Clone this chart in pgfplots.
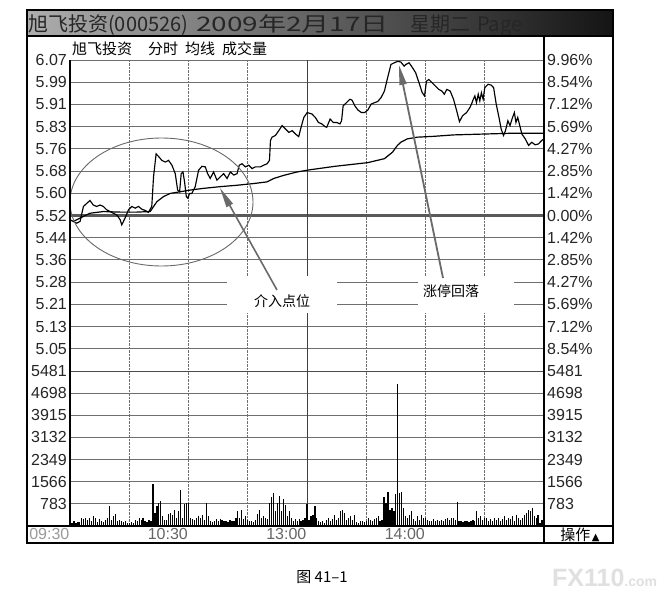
\documentclass[border=0pt]{standalone}
\usepackage{fontspec}
\setmainfont{Liberation Sans}
\newfontfamily\cjk{Noto Sans CJK SC}
\newfontfamily\dejavu{DejaVu Sans}
\usepackage{graphicx}
\usepackage{pgfplots}
\pgfplotsset{compat=1.18}
\usetikzlibrary{arrows.meta}

\definecolor{gridc}{HTML}{6E6E6E}
\definecolor{annot}{HTML}{6A6A6A}
\newcommand{\tf}{\fontsize{16}{16}\selectfont}

% price grid: prev close 5.52, step 1.423% = 0.07856
\def\pticks{5.04864,5.1272,5.20576,5.28432,5.36288,5.44144,5.52,5.59856,5.67712,5.75568,5.83424,5.9128,5.99136,6.06992}

\pgfplotsset{
  panel/.style={
    anchor=north west, width=474pt, scale only axis,
    xmin=0, xmax=240,
    axis line style={draw=none}, major tick length=0pt,
    xtick={30,60,90,150,180,210}, xticklabels={},
    yticklabel style={font=\tf, text=black!85, inner xsep=3pt},
  },
}

\begin{document}
\begin{tikzpicture}
\fill[white] (0pt,0pt) rectangle (667pt,-597pt);

% ---------------- price panel ----------------
\begin{axis}[panel,
  at={(70pt,-60pt)}, height=311pt,
  ymin=4.97008, ymax=6.06992,
  ytick=\pticks,
  yticklabels={5.05,5.13,5.21,5.28,5.36,5.44,5.52,5.60,5.68,5.76,5.83,5.91,5.99,6.07},
  xmajorgrids, ymajorgrids,
  major x grid style={gridc, densely dotted, line width=0.9pt},
  major y grid style={gridc, line width=1pt},
]
\draw[black!65, line width=2.2pt] (axis cs:0,5.52) -- (axis cs:240,5.52);
\draw[black!75, line width=1pt] (axis cs:120,4.97008) -- (axis cs:120,6.06992);
% price
\addplot[black, line width=1.15pt] coordinates {
(0,5.505) (3.4,5.493) (5.1,5.499) (6.8,5.552) (8.5,5.563) (10.1,5.573) (11.8,5.557)
(13.5,5.552) (15.2,5.557) (16.9,5.552) (18.6,5.540) (20.3,5.534) (22.0,5.528)
(23.7,5.522) (25.4,5.505) (26.2,5.487) (27.9,5.511) (29.6,5.540) (31.3,5.552)
(33.0,5.546) (34.7,5.552) (36.4,5.542) (38.1,5.538) (39.7,5.531) (41.4,5.552)
(42.3,5.657) (43.6,5.738) (44.8,5.729) (46.5,5.715) (48.2,5.709) (49.9,5.715)
(51.6,5.698) (53.3,5.668) (54.5,5.610) (55.5,5.604) (56.3,5.668) (57.2,5.674)
(58.0,5.639) (58.9,5.587) (59.7,5.581) (60.5,5.598) (61.7,5.598) (63.4,5.622)
(65.1,5.680) (66.8,5.694) (68.5,5.692) (69.7,5.668) (71.0,5.651) (72.7,5.674)
(74.4,5.645) (76.1,5.657) (77.8,5.668) (79.5,5.651) (81.2,5.674) (82.9,5.663)
(84.6,5.668) (85.7,5.698) (87.1,5.703) (88.8,5.692) (90.5,5.698) (92.2,5.686)
(93.9,5.692) (96.4,5.692) (98.1,5.698) (99.8,5.703) (101.0,5.715) (101.5,5.785)
(102.3,5.797) (104.0,5.803) (105.7,5.820) (107.4,5.838) (109.1,5.826) (110.8,5.814)
(112.5,5.820) (114.2,5.808) (115.8,5.799) (117.0,5.832) (118.4,5.867) (120.1,5.884)
(122.5,5.879) (124.2,5.867) (125.8,5.849) (127.5,5.844) (129.2,5.834) (130.0,5.832)
(131.7,5.861) (133.3,5.849) (135.0,5.849) (136.7,5.844) (137.5,5.855) (138.3,5.908)
(140.0,5.919) (141.7,5.931) (142.8,5.928) (144.2,5.908) (145.8,5.893) (147.5,5.884)
(149.2,5.884) (150.8,5.893) (152.5,5.914) (154.2,5.919) (155.8,5.923) (157.5,5.937)
(159.2,5.960) (160.8,6.007) (162.5,6.054) (164.2,6.060) (165.8,6.065) (167.5,6.063)
(169.2,6.048) (170.0,6.054) (171.7,6.060) (173.3,6.044) (175.0,6.025) (176.7,5.990)
(178.3,5.955) (179.5,5.943) (180.5,5.995) (181.7,6.001) (183.3,5.990) (185.0,5.978)
(186.7,5.966) (188.3,5.960) (189.5,5.949) (190.8,5.966) (192.5,5.960) (194.2,5.931)
(195.8,5.890) (197.2,5.852) (198.8,5.873) (200.8,5.884) (202.5,5.902) (203.3,5.914)
(204.2,5.931) (205.0,5.943) (205.8,5.919) (206.7,5.949) (207.5,5.925) (208.3,5.954)
(209.2,5.931) (210.0,5.972) (211.7,5.984) (213.3,5.981) (214.5,5.972) (215.8,5.914)
(217.2,5.867) (218.3,5.826) (219.5,5.803) (220.5,5.820) (221.7,5.855) (222.8,5.838)
(223.8,5.861) (225.0,5.884) (225.8,5.849) (226.7,5.867) (227.5,5.844) (228.8,5.808)
(230.5,5.791) (232.2,5.768) (233.8,5.779) (235.5,5.770) (237.2,5.773) (238.8,5.785)
(240.0,5.791)
};
% average price
\addplot[black, line width=1.2pt] coordinates {
(1.7,5.499) (5.1,5.511) (10.1,5.528) (16.9,5.534) (25.4,5.532) (33.8,5.532)
(40.6,5.534) (44.0,5.569) (47.4,5.587) (50.7,5.598) (55.8,5.604) (60.9,5.610)
(67.6,5.616) (76.1,5.622) (84.6,5.627) (93.0,5.633) (99.8,5.639) (103.2,5.651)
(108.2,5.662) (115.0,5.674) (121.8,5.682) (134.2,5.694) (150.8,5.707) (159.2,5.721)
(163.3,5.744) (165.8,5.768) (167.5,5.779) (170.8,5.791) (175.8,5.797) (184.2,5.800)
(194.2,5.805) (209.2,5.808) (224.2,5.811) (240,5.811)
};
\end{axis}

% right-hand percent labels
\begin{axis}[panel,
  at={(70pt,-60pt)}, height=311pt,
  ymin=4.97008, ymax=6.06992,
  hide x axis, axis y line*=right,
  ytick=\pticks,
  yticklabels={8.54\%,7.12\%,5.69\%,4.27\%,2.85\%,1.42\%,0.00\%,1.42\%,2.85\%,4.27\%,5.69\%,7.12\%,8.54\%,9.96\%},
]
\end{axis}

% ---------------- volume panel ----------------
\begin{axis}[panel,
  at={(70pt,-371pt)}, height=155pt,
  ymin=0, ymax=5481,
  ytick={783,1566,2349,3132,3915,4698,5481},
  yticklabels={783,1566,2349,3132,3915,4698,5481},
  extra x ticks={0,60,120,180},
  extra x tick labels={{\textcolor{black!40}{09:30}},10:30,13:00,14:00},
  extra x tick style={grid=none},
  xticklabel style={font=\tf, text=black!60, anchor=north east, inner xsep=0.5pt, inner ysep=2pt},
  xmajorgrids, ymajorgrids,
  major x grid style={gridc, densely dotted, line width=0.9pt},
  major y grid style={gridc, line width=1pt},
]
\draw[black!70, line width=2.2pt] (rel axis cs:0,1) -- (rel axis cs:1,1);
\draw[black!75, line width=1pt] (axis cs:120,0) -- (axis cs:120,5481);
\addplot[ycomb, black, line width=1.2pt] coordinates {
(0,430) (1,120) (2,160) (3,100) (4,150) (5,150) (6,300) (7,250) (8,280) (9,220)
(10,300) (11,160) (12,340) (13,300) (14,130) (15,250) (16,180) (17,130) (18,220) (19,280)
(20,710) (21,200) (22,340) (23,420) (24,160) (25,220) (26,180) (27,130) (28,180) (29,120)
(30,100) (31,130) (32,110) (33,220) (34,160) (35,280) (36,200) (37,300) (38,180) (39,150)
(40,220) (41,180) (42,1500) (43,460) (44,710) (45,830) (46,890) (47,340) (48,200) (49,220)
(50,420) (51,460) (52,400) (53,550) (54,280) (55,520) (56,1280) (57,300) (58,780) (59,800)
(60,830) (61,300) (62,250) (63,220) (64,270) (65,340) (66,280) (67,400) (68,220) (69,830)
(70,340) (71,160) (72,130) (73,180) (74,250) (75,180) (76,250) (77,220) (78,160) (79,180)
(80,130) (81,200) (82,160) (83,180) (84,300) (85,520) (86,280) (87,560) (88,250) (89,340)
(90,220) (91,180) (92,160) (93,130) (94,220) (95,430) (96,580) (97,280) (98,340) (99,300)
(100,250) (101,800) (102,1010) (103,1160) (104,520) (105,830) (106,1070) (107,520) (108,950) (109,760)
(110,340) (111,520) (112,280) (113,160) (114,250) (115,180) (116,250) (117,160) (118,220) (119,280)
(120,790) (121,220) (122,340) (123,400) (124,700) (125,280) (126,160) (127,130) (128,180) (129,100)
(130,220) (131,280) (132,180) (133,250) (134,400) (135,220) (136,280) (137,520) (138,580) (139,460)
(140,220) (141,280) (142,340) (143,220) (144,380) (145,130) (146,100) (147,160) (148,180) (149,130)
(150,160) (151,280) (152,220) (153,180) (154,250) (155,280) (156,340) (157,180) (158,220) (159,1010)
(160,830) (161,1200) (162,580) (163,650) (164,520) (165,1130) (166,5020) (167,1160) (168,1200) (169,650)
(170,340) (171,280) (172,400) (173,520) (174,250) (175,180) (176,340) (177,220) (178,400) (179,280)
(180,300) (181,220) (182,180) (183,160) (184,250) (185,180) (186,220) (187,160) (188,220) (189,180)
(190,250) (191,280) (192,220) (193,300) (194,280) (195,220) (196,860) (197,180) (198,160) (199,130)
(200,180) (201,160) (202,130) (203,180) (204,220) (205,160) (206,520) (207,280) (208,340) (209,220)
(210,300) (211,280) (212,180) (213,250) (214,160) (215,280) (216,220) (217,300) (218,180) (219,250)
(220,340) (221,220) (222,280) (223,250) (224,340) (225,180) (226,400) (227,280) (228,220) (229,300)
(230,400) (231,460) (232,580) (233,520) (234,650) (235,340) (236,280) (237,400) (238,100) (239,220)
(240,1040)
};
\end{axis}

\begin{axis}[panel,
  at={(70pt,-371pt)}, height=155pt,
  ymin=0, ymax=5481,
  hide x axis, axis y line*=right,
  ytick={783,1566,2349,3132,3915,4698,5481},
  yticklabels={783,1566,2349,3132,3915,4698,5481},
]
\end{axis}

% ---------------- frame, title, notes ----------------
\begin{scope}[x=1pt, y=-1pt]
  % annotation backgrounds
  \fill[white] (227,276) rectangle (337,313);
  \fill[white] (418,276) rectangle (514,313);
  % ellipse and arrows
  \draw[annot, line width=0.9pt] (161.5,202) ellipse [x radius=91.5pt, y radius=64pt];
  \draw[annot, line width=1.6pt, -{Triangle[length=20pt, width=7pt]}] (277,290) -- (220,188);
  \draw[annot, line width=1.8pt, -{Triangle[length=20pt, width=7pt]}] (443,278) -- (399,65);
  \node[font=\cjk\fontsize{14}{14}\selectfont] at (282,301) {介入点位};
  \node[font=\cjk\fontsize{14}{14}\selectfont] at (451,291) {涨停回落};

  % title bar
  \shade[left color=black!32, right color=black!92] (27,10) rectangle (613,36);
  \begin{scope}[every node/.style={anchor=base west, inner sep=0pt, text=black!85}]
    \node[font=\cjk\fontsize{20}{20}\selectfont] at (28,31) {旭飞投资(000526)};
    \node[font=\cjk\fontsize{20}{20}\selectfont] at (196,31) {\scalebox{1.4}[1]{2009年2月17日}};
    \node[font=\cjk\fontsize{20}{20}\selectfont] at (410,31) {星期二};
    \node[font=\cjk\fontsize{20}{20}\selectfont] at (477,31) {Page};
  \end{scope}

  % header of the chart
  \begin{scope}[every node/.style={anchor=west, inner sep=0pt, font=\cjk\fontsize{15}{15}\selectfont}]
    \node at (72,49) {旭飞投资};
    \node at (148,49) {分时};
    \node at (185,49) {均线};
    \node at (222,49) {成交量};
  \end{scope}

  % frame lines
  \draw[black, line width=1.2pt] (70,60) -- (70,526);
  \draw[black, line width=1.2pt] (544,36) -- (544,543);
  \draw[black, line width=1.2pt] (27,526) -- (613,526);
  \draw[black, line width=1.2pt] (27,36) -- (613,36);
  \draw[black, line width=1.5pt] (27,10) rectangle (613,543);

  \node[inner sep=0pt] at (580,535) {{\cjk\fontsize{15}{15}\selectfont 操作}\,{\dejavu\fontsize{10}{10}\selectfont ▲}};

  % caption and watermark
  \node[font=\cjk\fontsize{15}{15}\selectfont] at (322,577) {图 41–1};
  \node[anchor=base west, inner sep=0pt, text=black!12] at (552,586)
    {\fontsize{25}{25}\selectfont\bfseries FX110\fontsize{14}{14}\selectfont .com};
\end{scope}
\end{tikzpicture}
\end{document}
